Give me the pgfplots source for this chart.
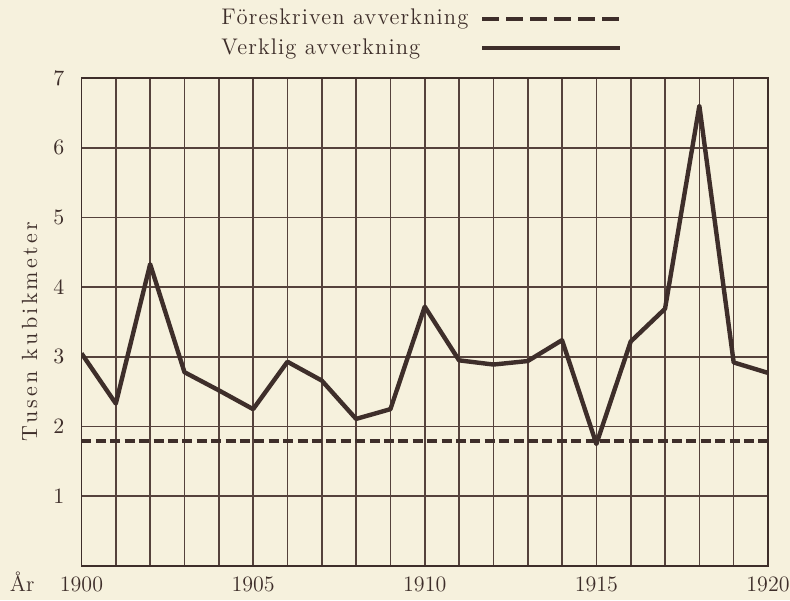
\documentclass[border=0pt]{standalone}
\usepackage{fontspec}
\usepackage{pgfplots}
\pgfplotsset{compat=1.18}
\usepackage{pgfplotstable}
\newfontfamily\legspaced{Latin Modern Roman}[LetterSpace=5]
\newfontfamily\labspaced{Latin Modern Roman}[LetterSpace=15]
\definecolor{paper}{RGB}{246,241,221}
\definecolor{ink}{RGB}{62,46,42}
\definecolor{gridink}{RGB}{85,66,60}

\pgfplotstableread{
year val
1900 3.05
1901 2.33
1902 4.33
1903 2.78
1904 2.52
1905 2.25
1906 2.93
1907 2.66
1908 2.11
1909 2.25
1910 3.72
1911 2.95
1912 2.89
1913 2.94
1914 3.24
1915 1.75
1916 3.22
1917 3.69
1918 6.60
1919 2.92
1920 2.77
}\verklig

\pgfplotstableread{
year val
1900 1.8
1920 1.8
}\foreskriven

\newcommand{\chartfont}{\fontsize{11}{13}\selectfont}
\newcommand{\legfont}{\legspaced\fontsize{11.3}{13}\selectfont}

\begin{document}
\begin{tikzpicture}
\path[use as bounding box, fill=paper] (-40.75pt,-17pt) rectangle (354.25pt,283pt);
\begin{axis}[
  at={(0pt,0pt)}, anchor=south west,
  scale only axis, width=343.25pt, height=244pt,
  xmin=1900, xmax=1920, ymin=0, ymax=7,
  xtick={1900,1901,...,1920},
  xticklabels={1900,,,,,1905,,,,,1910,,,,,1915,,,,,1920},
  ytick={1,2,3,4,5,6,7},
  grid=major,
  major grid style={gridink, line width=0.8pt},
  major tick length=0pt,
  axis line style={ink, line width=0.9pt},
  tick label style={font=\chartfont, text=ink},
  yticklabel style={xshift=-5pt},
  xticklabel style={yshift=-1.8pt},
  ylabel={Tusen kubikmeter},
  ylabel style={font=\labspaced\chartfont, text=ink, at={(rel axis cs:0,0.4806)}, yshift=26pt, anchor=center},
  legend style={at={(rel axis cs:0.1975,1)}, anchor=south west, yshift=8pt, draw=none, fill=none, inner sep=0pt, row sep=1.5pt, font=\legfont, text=ink, nodes={inner sep=2pt}},
  legend cell align=left,
  legend plot pos=right,
  legend image code/.code={\path (0pt,0pt); \draw[#1] (4pt,0pt) -- (73pt,0pt);},
]
\addlegendimage{ink, line width=2pt, dash pattern=on 8.5pt off 3.5pt}
\addlegendentry{Föreskriven avverkning}
\addlegendimage{ink, line width=2pt}
\addlegendentry{Verklig avverkning}
\addplot[forget plot, ink, line width=2pt, dash pattern=on 5pt off 2.2pt] table[x=year, y=val] {\foreskriven};
\addplot[forget plot, ink, line width=2.2pt, line join=round] table[x=year, y=val] {\verklig};
\end{axis}
\node[anchor=base west, text=ink, font=\chartfont, inner sep=0pt] at (-36pt,-12.7pt) {År};
\end{tikzpicture}
\end{document}
